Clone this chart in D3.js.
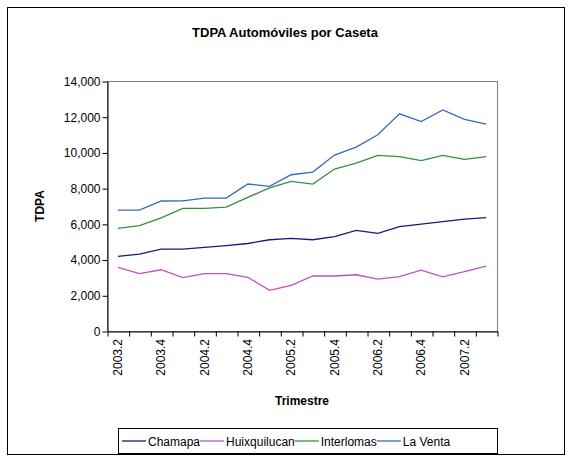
<!DOCTYPE html>
<html>
<head>
<meta charset="utf-8">
<script src="https://cdn.jsdelivr.net/npm/d3@7"></script>
<style>
  body { margin: 0; background: #fff; }
  text { font-family: "Liberation Sans", Arial, sans-serif; }
</style>
</head>
<body>
<div id="chart"></div>
<script>
const quarters = ["2003.2","2003.3","2003.4","2004.1","2004.2","2004.3","2004.4","2005.1","2005.2",
  "2005.3","2005.4","2006.1","2006.2","2006.3","2006.4","2007.1","2007.2","2007.3"];
const chamapa = [4180,4310,4590,4590,4680,4780,4900,5110,5190,5110,5280,5630,5470,5850,5990,6120,6270,6350];
const huixquilucan = [3560,3210,3430,2990,3210,3210,3010,2280,2560,3080,3080,3150,2910,3050,3410,3030,3330,3630];
const interlomas = [5750,5900,6340,6870,6870,6940,7480,8020,8380,8230,9070,9400,9830,9760,9540,9830,9610,9760];
const laVenta = [6770,6770,7280,7290,7440,7440,8230,8100,8750,8900,9850,10300,10990,12160,11730,12380,11850,11590];
const seriesNames = ["Chamapa","Huixquilucan","Interlomas","La Venta"];
const seriesColors = ["#1a1a7a","#c050c0","#2e9140","#3a66c4"];
const yTicks = [0,2000,4000,6000,8000,10000,12000,14000];

const allSeries = [chamapa, huixquilucan, interlomas, laVenta];

const W = 572, H = 458;
const plot = { left: 107, top: 81, right: 497, bottom: 331 };

const svg = d3.select("#chart").append("svg")
  .attr("width", W).attr("height", H);

// outer frame
svg.append("rect")
  .attr("x", 7.5).attr("y", 7.5)
  .attr("width", 557).attr("height", 447)
  .attr("fill", "#fff").attr("stroke", "#000").attr("stroke-width", 1);

svg.append("text")
  .attr("x", 285).attr("y", 37)
  .attr("text-anchor", "middle")
  .attr("font-size", 13).attr("font-weight", "bold")
  .text("TDPA Automóviles por Caseta");

const x = d3.scaleBand().domain(quarters).range([plot.left, plot.right]).padding(0);
const xEdge = d3.scaleLinear().domain([0, quarters.length]).range([plot.left, plot.right]);
const y = d3.scaleLinear().domain([0, 14000]).range([plot.bottom, plot.top]);

// plot border (gray top/right)
svg.append("rect")
  .attr("x", plot.left + 0.5).attr("y", plot.top + 0.5)
  .attr("width", plot.right - plot.left).attr("height", plot.bottom - plot.top)
  .attr("fill", "none").attr("stroke", "#808080").attr("stroke-width", 1);

// y axis
const yAxis = svg.append("g")
  .attr("transform", "translate(" + (plot.left + 0.5) + ",0.5)")
  .call(d3.axisLeft(y).tickValues(yTicks).tickFormat(d3.format(",")).tickSize(5).tickSizeOuter(0));
yAxis.select(".domain").attr("stroke", "#000");
yAxis.selectAll("text").attr("font-size", 12).attr("fill", "#000")
  .style("font-family", "Liberation Sans, Arial, sans-serif").attr("x", -7);

// x axis ticks at category boundaries
const xTicksG = svg.append("g")
  .attr("transform", "translate(0.5," + (plot.bottom + 0.5) + ")")
  .call(d3.axisBottom(xEdge).tickValues(d3.range(0, quarters.length + 1)).tickFormat("").tickSize(5).tickSizeOuter(0));
xTicksG.select(".domain").attr("stroke", "#000");

// x labels every other quarter
const xLab = svg.append("g")
  .attr("transform", "translate(0," + (plot.bottom) + ")")
  .call(d3.axisBottom(x).tickValues(quarters.filter((d, i) => i % 2 === 0)).tickSize(0));
xLab.select(".domain").remove();
xLab.selectAll("text")
  .attr("font-size", 12).attr("fill", "#000")
  .style("font-family", "Liberation Sans, Arial, sans-serif")
  .attr("transform", "rotate(-90)")
  .attr("x", -8).attr("y", 0).attr("dy", "0.35em")
  .attr("text-anchor", "end");

// axis titles
svg.append("text")
  .attr("transform", "translate(44," + ((plot.top + plot.bottom) / 2) + ") rotate(-90)")
  .attr("text-anchor", "middle")
  .attr("font-size", 12).attr("font-weight", "bold")
  .text("TDPA");

svg.append("text")
  .attr("x", (plot.left + plot.right) / 2).attr("y", 405)
  .attr("text-anchor", "middle")
  .attr("font-size", 12).attr("font-weight", "bold")
  .text("Trimestre");

// lines
const line = d3.line()
  .x((d, i) => x(quarters[i]) + x.bandwidth() / 2)
  .y(d => y(d));

allSeries.forEach((s, k) => {
  svg.append("path")
    .datum(s)
    .attr("d", line)
    .attr("fill", "none")
    .attr("stroke", seriesColors[k])
    .attr("stroke-width", 1.3);
});

// legend
const legend = svg.append("g").attr("transform", "translate(118,428)");
legend.append("rect")
  .attr("x", 0.5).attr("y", 0.5).attr("width", 379).attr("height", 25)
  .attr("fill", "#fff").attr("stroke", "#000");
let lx = 4;
seriesNames.forEach((name, k) => {
  legend.append("line")
    .attr("x1", lx).attr("x2", lx + 24)
    .attr("y1", 13).attr("y2", 13)
    .attr("stroke", seriesColors[k]).attr("stroke-width", 1.3);
  const t = legend.append("text")
    .attr("x", lx + 26).attr("y", 17.5)
    .attr("font-size", 12)
    .text(name);
  lx += 26 + t.node().getComputedTextLength();
});
</script>
</body>
</html>
